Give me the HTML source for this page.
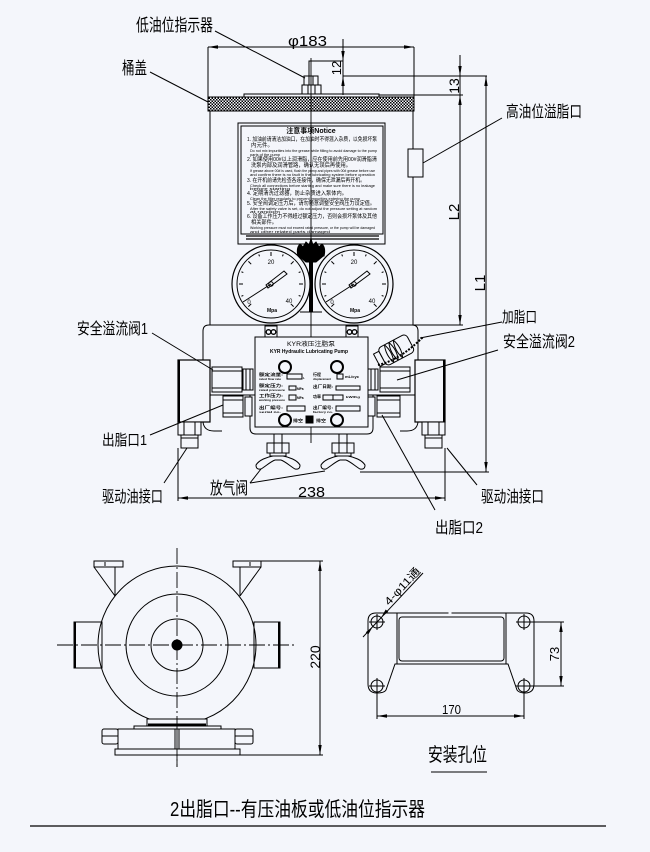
<!DOCTYPE html>
<html><head><meta charset="utf-8">
<style>
html,body{margin:0;padding:0;background:#f4f6fb;}
svg{display:block}
text{font-family:"Liberation Sans","Noto Sans CJK SC",sans-serif;fill:#000;stroke:none}
</style></head><body>
<svg width="650" height="852" viewBox="0 0 650 852" xmlns="http://www.w3.org/2000/svg">
<defs>
<pattern id="hatch" width="3" height="3" patternUnits="userSpaceOnUse">
<rect width="3" height="3" fill="#f4f6fb"/>
<rect x="0" y="0" width="1.5" height="1.5" fill="#000"/>
<rect x="1.5" y="1.5" width="1.5" height="1.5" fill="#000"/>
</pattern>
</defs>
<rect width="650" height="852" fill="#f4f6fb"/>

<g stroke="#000" stroke-width="1" fill="none">
<!-- ===== dimension phi183 ===== -->
<line x1="208" y1="47" x2="414" y2="47"/>
<line x1="208" y1="47" x2="208" y2="97"/>
<line x1="414" y1="47" x2="414" y2="97"/>
<!-- 12 dim -->
<line x1="343" y1="39" x2="343" y2="95"/>
<path d="M309,76 V61 H343"/>
<!-- 13 / L1 ext lines -->
<line x1="343" y1="76" x2="487" y2="76"/>
<line x1="379" y1="95" x2="463" y2="95"/>
<line x1="460" y1="55" x2="460" y2="325"/>
<line x1="412" y1="325" x2="463" y2="325"/>
<line x1="486" y1="76" x2="486" y2="472"/>
<line x1="360" y1="472" x2="489" y2="472"/>

<!-- ===== tank ===== -->
<rect x="208" y="97" width="206" height="14" fill="url(#hatch)"/>
<rect x="244" y="94" width="135" height="3"/>
<line x1="210" y1="111" x2="210" y2="325"/>
<line x1="413" y1="111" x2="413" y2="325"/>
<!-- indicator -->
<rect x="304" y="76" width="14" height="9" fill="#f4f6fb"/>
<line x1="309" y1="76" x2="309" y2="85"/><line x1="313" y1="76" x2="313" y2="85"/>
<rect x="302" y="85" width="19" height="9" fill="#f4f6fb"/>
<line x1="308" y1="85" x2="308" y2="94"/><line x1="315" y1="85" x2="315" y2="94"/>
<!-- high oil overflow port -->
<rect x="408" y="149" width="15" height="28" fill="#f4f6fb"/>

<!-- notice panel -->
<rect x="238" y="123" width="147" height="121"/>
<rect x="241" y="126" width="142" height="108"/>
<line x1="246" y1="236" x2="379" y2="236" stroke-width="1.2"/>
<line x1="246" y1="239" x2="379" y2="239" stroke-width="1.2"/>

<!-- centerline -->
<line x1="311" y1="58" x2="311" y2="443" stroke-width="0.9"/>

<!-- logo -->
<path d="M298,256 Q296,248 300,244 L303,247 L306,242 L309,245 L311,239 L313,245 L316,242 L319,247 L322,244 Q326,248 324,256 Z" fill="#000"/>
<path d="M300,257 H322 L316,262 H306 Z" fill="#000"/>
<rect x="309" y="262" width="4" height="50" fill="#000" stroke="none"/>
<line x1="300" y1="312" x2="322" y2="312"/>

<!-- ===== gauges ===== -->
<g transform="translate(271,284)">
<circle r="39" fill="#f4f6fb" stroke-width="1.2"/>
<circle r="34"/>
<path d="M-19.8,19.8 L-22.6,22.6 M-28,0 L-32,0 M-19.8,-19.8 L-22.6,-22.6 M0,-28 L0,-32 M19.8,-19.8 L22.6,-22.6 M28,0 L32,0 M19.8,19.8 L22.6,22.6 M-27.7,11.5 L-29.6,12.2 M-27.7,-11.5 L-29.6,-12.2 M-11.5,-27.7 L-12.2,-29.6 M11.5,-27.7 L12.2,-29.6 M27.7,-11.5 L29.6,-12.2 M27.7,11.5 L29.6,12.2"/>
<line x1="0" y1="0" x2="-28" y2="18"/>
<polygon points="-5,1 13,-13 16,-10 -3,4"/>
<circle r="2.2"/>
</g>
<g transform="translate(354,284)">
<circle r="39" fill="#f4f6fb" stroke-width="1.2"/>
<circle r="34"/>
<path d="M-19.8,19.8 L-22.6,22.6 M-28,0 L-32,0 M-19.8,-19.8 L-22.6,-22.6 M0,-28 L0,-32 M19.8,-19.8 L22.6,-22.6 M28,0 L32,0 M19.8,19.8 L22.6,22.6 M-27.7,11.5 L-29.6,12.2 M-27.7,-11.5 L-29.6,-12.2 M-11.5,-27.7 L-12.2,-29.6 M11.5,-27.7 L12.2,-29.6 M27.7,-11.5 L29.6,-12.2 M27.7,11.5 L29.6,12.2"/>
<line x1="0" y1="0" x2="-28" y2="18"/>
<polygon points="-5,1 13,-13 16,-10 -3,4"/>
<circle r="2.2"/>
</g>

<!-- ===== pump housing ===== -->
<path d="M203,360 V331 Q203,325 209,325 H412 Q418,325 418,331 V360"/>
<path d="M203,422 Q204,431 214,431 H222"/>
<path d="M418,422 Q417,431 407,431 H400"/>
<!-- gauge nipples -->
<rect x="265" y="326" width="12" height="11" fill="#f4f6fb"/>
<circle cx="268.5" cy="332" r="2.3" stroke-width="1.3"/><circle cx="273.5" cy="332" r="2.3" stroke-width="1.3"/>
<rect x="346" y="326" width="12" height="11" fill="#f4f6fb"/>
<circle cx="349.5" cy="332" r="2.3" stroke-width="1.3"/><circle cx="354.5" cy="332" r="2.3" stroke-width="1.3"/>

<!-- side blocks -->
<rect x="178" y="360" width="32" height="62" fill="#f4f6fb" stroke-width="1.2"/>
<line x1="179" y1="360" x2="179" y2="422" stroke-width="2"/>
<rect x="415" y="360" width="30" height="62" fill="#f4f6fb" stroke-width="1.2"/>
<line x1="444" y1="360" x2="444" y2="422" stroke-width="2"/>
<line x1="210" y1="395" x2="255" y2="395"/>
<line x1="368" y1="395" x2="415" y2="395"/>

<!-- lower plate + front plate -->
<path d="M250,395 V428 Q250,434 256,434 H367 Q373,434 373,428 V395"/>
<rect x="255" y="337" width="113" height="90" fill="#f4f6fb"/>

<!-- safety valve 1 -->
<rect x="212" y="367" width="30" height="25" fill="#f4f6fb"/>
<line x1="212" y1="371" x2="242" y2="371"/><line x1="212" y1="388" x2="242" y2="388"/>
<rect x="243" y="369" width="10" height="21" fill="#f4f6fb"/>
<line x1="246" y1="369" x2="246" y2="390"/><line x1="250" y1="369" x2="250" y2="390"/>
<!-- outlet 1 -->
<rect x="223" y="396" width="20" height="21" fill="#f4f6fb"/>
<line x1="223" y1="400" x2="243" y2="400"/><line x1="223" y1="413" x2="243" y2="413"/>
<rect x="245" y="397" width="7" height="19" fill="#f4f6fb"/>
<!-- safety valve 2 -->
<rect x="380" y="367" width="30" height="25" fill="#f4f6fb"/>
<line x1="380" y1="371" x2="410" y2="371"/><line x1="380" y1="388" x2="410" y2="388"/>
<rect x="368" y="369" width="10" height="21" fill="#f4f6fb"/>
<line x1="371" y1="369" x2="371" y2="390"/><line x1="375" y1="369" x2="375" y2="390"/>
<!-- outlet 2 -->
<rect x="377" y="396" width="23" height="21" fill="#f4f6fb"/>
<line x1="377" y1="400" x2="400" y2="400"/><line x1="377" y1="413" x2="400" y2="413"/>
<rect x="368" y="397" width="7" height="19" fill="#f4f6fb"/>

<!-- grease inlet with cap & chain -->
<g transform="translate(398,349) rotate(-28)">
<rect x="-18" y="-10" width="32" height="20" rx="4" fill="#f4f6fb"/>
<path d="M-10,-10 Q-14,0 -10,10 M-5,-10 Q-9,0 -5,10 M0,-10 Q-4,0 0,10"/>
<path d="M-10,-10 Q-6,0 -10,10 M-5,-10 Q-1,0 -5,10 M0,-10 Q4,0 0,10"/>
<rect x="-24" y="-7" width="6" height="14" fill="#f4f6fb"/>
</g>
<path d="M378,365 Q400,360 423,337" stroke-width="2" stroke-dasharray="2 1.4"/>

<!-- knobs -->
<circle cx="285" cy="367" r="6" stroke-width="2"/>
<circle cx="337" cy="367" r="6" stroke-width="2"/>
<circle cx="285" cy="420" r="6" stroke-width="2"/>
<circle cx="337" cy="420" r="6" stroke-width="2"/>
<rect x="306" y="416" width="7" height="7" fill="#000"/>
<!-- field boxes -->
<rect x="287" y="374" width="15" height="5"/>
<rect x="337" y="374" width="6" height="5"/>
<rect x="289" y="386" width="7" height="4"/>
<rect x="336" y="386" width="24" height="4"/>
<rect x="289" y="395" width="7" height="5"/>
<rect x="323" y="395" width="20" height="5"/><line x1="333" y1="395" x2="333" y2="400"/>
<rect x="287" y="406" width="18" height="5"/>
<rect x="336" y="406" width="24" height="5"/>

<!-- drive oil ports -->
<rect x="178" y="422" width="23" height="13" fill="#f4f6fb"/>
<line x1="184" y1="422" x2="184" y2="435"/><line x1="195" y1="422" x2="195" y2="435"/>
<rect x="181" y="435" width="17" height="13" fill="#f4f6fb"/>
<line x1="181" y1="438" x2="198" y2="438"/>
<rect x="422" y="422" width="23" height="13" fill="#f4f6fb"/>
<line x1="428" y1="422" x2="428" y2="435"/><line x1="439" y1="422" x2="439" y2="435"/>
<rect x="425" y="435" width="17" height="13" fill="#f4f6fb"/>
<line x1="425" y1="438" x2="442" y2="438"/>

<!-- air bleed valves (wing nuts) -->
<g transform="translate(278,0)">
<rect x="-4" y="434" width="8" height="9"/>
<rect x="-11" y="443" width="22" height="10" fill="#f4f6fb"/>
<line x1="-4" y1="443" x2="-4" y2="453"/><line x1="4" y1="443" x2="4" y2="453"/>
<rect x="-8" y="453" width="16" height="3"/>
<path d="M-5,456 C-11,457 -19,460 -22,465 Q-22,470 -17,469 C-12,466 -8,462 -3,460"/>
<path d="M5,456 C11,457 19,460 22,465 Q22,470 17,469 C12,466 8,462 3,460"/>
<line x1="-3" y1="460" x2="3" y2="460"/>
</g>
<g transform="translate(343,0)">
<rect x="-4" y="434" width="8" height="9"/>
<rect x="-11" y="443" width="22" height="10" fill="#f4f6fb"/>
<line x1="-4" y1="443" x2="-4" y2="453"/><line x1="4" y1="443" x2="4" y2="453"/>
<rect x="-8" y="453" width="16" height="3"/>
<path d="M-5,456 C-11,457 -19,460 -22,465 Q-22,470 -17,469 C-12,466 -8,462 -3,460"/>
<path d="M5,456 C11,457 19,460 22,465 Q22,470 17,469 C12,466 8,462 3,460"/>
<line x1="-3" y1="460" x2="3" y2="460"/>
</g>

<!-- 238 dim -->
<line x1="178" y1="448" x2="178" y2="501"/>
<line x1="445" y1="448" x2="445" y2="501"/>
<line x1="178" y1="498" x2="445" y2="498"/>

<!-- leaders -->
<line x1="215" y1="31" x2="305" y2="78"/>
<line x1="150" y1="72" x2="208" y2="102"/>
<line x1="502" y1="118" x2="423" y2="163"/>
<line x1="502" y1="322" x2="420" y2="338"/>
<line x1="498" y1="350" x2="397" y2="380"/>
<line x1="152" y1="333" x2="213" y2="370"/>
<line x1="150" y1="435" x2="223" y2="405"/>
<line x1="164" y1="483" x2="187" y2="448"/>
<line x1="477" y1="485" x2="447" y2="448"/>
<line x1="250" y1="483" x2="261" y2="469"/>
<line x1="250" y1="483" x2="325" y2="471"/>
<line x1="435" y1="510" x2="382" y2="415"/>

<!-- ===== bottom-left view ===== -->
<circle cx="177" cy="645" r="79"/>
<circle cx="177" cy="645" r="51"/>
<circle cx="177" cy="645" r="26"/>
<circle cx="177" cy="645" r="5" fill="#000"/>
<g stroke-dasharray="16 3 2 3" stroke-width="0.9">
<line x1="177" y1="548" x2="177" y2="767"/>
<line x1="57" y1="645" x2="297" y2="645"/>
</g>
<rect x="94" y="561" width="29" height="6" fill="#f4f6fb"/>
<line x1="105" y1="562" x2="105" y2="566"/>
<rect x="233" y="561" width="28" height="6" fill="#f4f6fb"/>
<line x1="250" y1="562" x2="250" y2="566"/>
<path d="M94,567 L115,596 M115,567 V596"/>
<path d="M261,567 L240,596 M240,567 V596"/>
<rect x="74" y="622" width="28" height="46"/>
<line x1="75" y1="622" x2="75" y2="668" stroke-width="2"/>
<rect x="254" y="622" width="26" height="46"/>
<line x1="279" y1="622" x2="279" y2="668" stroke-width="2"/>
<rect x="147" y="719" width="60" height="7" fill="#f4f6fb"/>
<line x1="148" y1="724.5" x2="206" y2="724.5" stroke-width="2"/>
<rect x="134" y="726" width="87" height="3" fill="#f4f6fb"/>
<rect x="118" y="729" width="117" height="20" fill="#f4f6fb"/>
<line x1="175" y1="729" x2="175" y2="749"/><line x1="179" y1="729" x2="179" y2="749"/>
<rect x="102" y="729" width="16" height="15" rx="2"/>
<line x1="102" y1="736" x2="118" y2="736"/>
<rect x="235" y="729" width="18" height="15" rx="2"/>
<line x1="235" y1="736" x2="253" y2="736"/>
<rect x="115" y="749" width="125" height="6" fill="#f4f6fb"/>
<line x1="177" y1="719" x2="177" y2="767" stroke-width="0.9"/>
<!-- 220 dim -->
<line x1="261" y1="561" x2="323" y2="561"/>
<line x1="240" y1="755" x2="323" y2="755"/>
<line x1="320" y1="561" x2="320" y2="755"/>

<!-- ===== mounting hole view ===== -->
<path d="M376,613 H526 Q534,613 534,621 V684 Q534,693 525,693 Q519,693 517,690 L508,664 H395 L386,690 Q384,693 377,693 Q368,693 368,684 V621 Q368,613 376,613 Z"/>
<line x1="397" y1="613" x2="397" y2="664"/>
<line x1="506" y1="613" x2="506" y2="664"/>
<rect x="399" y="617" width="105" height="44" rx="3"/>
<line x1="450" y1="610" x2="450" y2="616" stroke="#f4f6fb" stroke-width="3"/>
<g>
<circle cx="377" cy="622" r="6"/><path d="M369,622 H385 M377,614 V630"/>
<circle cx="524" cy="622" r="6"/><path d="M516,622 H532 M524,614 V630"/>
<circle cx="377" cy="686" r="6"/><path d="M369,686 H385 M377,678 V694"/>
<circle cx="524" cy="686" r="6"/><path d="M516,686 H532 M524,678 V694"/>
</g>
<line x1="377" y1="692" x2="377" y2="719"/>
<line x1="524" y1="692" x2="524" y2="719"/>
<line x1="377" y1="716" x2="524" y2="716"/>
<line x1="530" y1="622" x2="564" y2="622"/>
<line x1="530" y1="686" x2="564" y2="686"/>
<line x1="561" y1="622" x2="561" y2="686"/>
<line x1="363" y1="637" x2="423" y2="573"/>
<line x1="431" y1="772" x2="487" y2="772"/>

<!-- caption underline -->
<line x1="30" y1="826" x2="606" y2="826" stroke-width="1.2"/>
</g>

<!-- ===== arrowheads ===== -->
<g fill="#000" stroke="none">
<polygon points="208,47 218,45.3 218,48.7"/>
<polygon points="414,47 404,45.3 404,48.7"/>
<polygon points="343,61 341.3,51 344.7,51"/>
<polygon points="343,76 341.3,86 344.7,86"/>
<polygon points="460,76 458.3,66 461.7,66"/>
<polygon points="460,95 458.3,105 461.7,105"/>
<polygon points="460,325 458.3,315 461.7,315"/>
<polygon points="486,76 484.3,86 487.7,86"/>
<polygon points="486,472 484.3,462 487.7,462"/>
<polygon points="178,498 188,496.3 188,499.7"/>
<polygon points="445,498 435,496.3 435,499.7"/>
<polygon points="320,561 318.3,571 321.7,571"/>
<polygon points="320,755 318.3,745 321.7,745"/>
<polygon points="377,716 387,714.3 387,717.7"/>
<polygon points="524,716 514,714.3 514,717.7"/>
<polygon points="561,622 559.3,632 562.7,632"/>
<polygon points="561,686 559.3,676 562.7,676"/>
<polygon points="372.9,626.4 365.8,632.2 368.3,634.5"/>
<polygon points="381.1,617.6 388.2,611.8 385.7,609.5"/>
</g>

<!-- ===== texts ===== -->
<g font-size="17">
<text x="136" y="31" textLength="77" lengthAdjust="spacingAndGlyphs">低油位指示器</text>
<text x="122" y="74" textLength="25" lengthAdjust="spacingAndGlyphs">桶盖</text>
<text x="506" y="117" textLength="76" lengthAdjust="spacingAndGlyphs" font-size="16">高油位溢脂口</text>
<text x="502" y="322" textLength="35" lengthAdjust="spacingAndGlyphs" font-size="15">加脂口</text>
<text x="503" y="347" textLength="72" lengthAdjust="spacingAndGlyphs" font-size="16">安全溢流阀2</text>
<text x="77" y="334" textLength="71" lengthAdjust="spacingAndGlyphs" font-size="16">安全溢流阀1</text>
<text x="102" y="445" textLength="45" lengthAdjust="spacingAndGlyphs" font-size="15">出脂口1</text>
<text x="102" y="502" textLength="61" lengthAdjust="spacingAndGlyphs" font-size="16">驱动油接口</text>
<text x="481" y="502" textLength="63" lengthAdjust="spacingAndGlyphs" font-size="16">驱动油接口</text>
<text x="210" y="494" textLength="38" lengthAdjust="spacingAndGlyphs">放气阀</text>
<text x="435" y="533" textLength="48" lengthAdjust="spacingAndGlyphs" font-size="16">出脂口2</text>
<text x="428" y="761" textLength="59" lengthAdjust="spacingAndGlyphs" font-size="19">安装孔位</text>
<text x="170" y="816" textLength="255" lengthAdjust="spacingAndGlyphs" font-size="20">2出脂口--有压油板或低油位指示器</text>
</g>
<g font-size="15">
<text x="288" y="46" textLength="39" lengthAdjust="spacingAndGlyphs">φ183</text>
<text x="298" y="497" textLength="27" lengthAdjust="spacingAndGlyphs">238</text>
<text x="442" y="714" textLength="19" lengthAdjust="spacingAndGlyphs" font-size="13">170</text>
<text transform="translate(341,68) rotate(-90)" text-anchor="middle" font-size="13">12</text>
<text transform="translate(459,86) rotate(-90)" text-anchor="middle" font-size="14">13</text>
<text transform="translate(459,212) rotate(-90)" text-anchor="middle" font-size="15">L2</text>
<text transform="translate(485,283) rotate(-90)" text-anchor="middle" font-size="15">L1</text>
<text transform="translate(320,657) rotate(-90)" text-anchor="middle" font-size="14">220</text>
<text transform="translate(559,654) rotate(-90)" text-anchor="middle" font-size="13">73</text>
<text transform="translate(389,606) rotate(-46.8)" font-size="11" textLength="47" lengthAdjust="spacingAndGlyphs">4-φ11通</text>
</g>

<!-- gauge labels -->
<g font-size="6" text-anchor="middle">
<text x="271" y="264">20</text><text x="249" y="304">0</text><text x="289" y="303">40</text>
<text x="272" y="312" font-size="5" font-weight="bold">Mpa</text>
<text x="354" y="264">20</text><text x="332" y="304">0</text><text x="372" y="303">40</text>
<text x="355" y="312" font-size="5" font-weight="bold">Mpa</text>
</g>

<!-- notice panel text -->
<text x="311" y="133" font-size="7" text-anchor="middle" font-weight="bold">注意事项Notice</text>
<g font-size="5.6" fill="#111">
<text x="247" y="141" textLength="130" lengthAdjust="spacingAndGlyphs">1. 加油前请清洁加油口，在加油时不得混入杂质，以免损坏泵</text>
<text x="251" y="147" textLength="22" lengthAdjust="spacingAndGlyphs">内元件。</text>
<text x="247" y="161" textLength="130" lengthAdjust="spacingAndGlyphs">2. 如果使用00#以上润滑脂，应在使用前先用00#润滑脂清</text>
<text x="251" y="167" textLength="100" lengthAdjust="spacingAndGlyphs">洗泵内部及润滑管路，确认无误后再使用。</text>
<text x="247" y="182" textLength="118" lengthAdjust="spacingAndGlyphs">3. 在开机前请先检查各连接件，确保无泄漏后再开机。</text>
<text x="247" y="195" textLength="100" lengthAdjust="spacingAndGlyphs">4. 定期清洗过滤器，防止杂质进入泵体内。</text>
<text x="247" y="205" textLength="128" lengthAdjust="spacingAndGlyphs">5. 安全阀调定压力后，请勿随意调整安全阀压力设定值。</text>
<text x="247" y="218" textLength="130" lengthAdjust="spacingAndGlyphs">6. 设备工作压力不得超过额定压力，否则会损坏泵体及其他</text>
<text x="251" y="224" textLength="26" lengthAdjust="spacingAndGlyphs">相关部件。</text>
</g>
<g font-size="3.4" fill="#222">
<text x="250" y="152" textLength="127" lengthAdjust="spacingAndGlyphs">Do not mix impurities into the grease while filling to avoid damage to the pump</text>
<text x="250" y="156" textLength="30" lengthAdjust="spacingAndGlyphs">parts of the pump</text>
<text x="250" y="172" textLength="125" lengthAdjust="spacingAndGlyphs">If grease above 00# is used, flush the pump and pipes with 00# grease before use</text>
<text x="250" y="176" textLength="125" lengthAdjust="spacingAndGlyphs">and confirm there is no fault in the lubricating system before operation</text>
<text x="250" y="187" textLength="125" lengthAdjust="spacingAndGlyphs">Check all connections before starting and make sure there is no leakage</text>
<text x="250" y="190" textLength="40" lengthAdjust="spacingAndGlyphs">before starting</text>
<text x="250" y="200" textLength="110" lengthAdjust="spacingAndGlyphs">Clean the filter regularly to prevent impurities entering the pump</text>
<text x="250" y="210" textLength="127" lengthAdjust="spacingAndGlyphs">After the safety valve is set, do not adjust the pressure setting at random</text>
<text x="250" y="213" textLength="30" lengthAdjust="spacingAndGlyphs">at random</text>
<text x="250" y="229" textLength="125" lengthAdjust="spacingAndGlyphs">Working pressure must not exceed rated pressure, or the pump will be damaged</text>
<text x="250" y="233" textLength="80" lengthAdjust="spacingAndGlyphs">and other related parts damaged</text>
</g>

<!-- front plate text -->
<text x="311" y="346" font-size="6" text-anchor="middle" textLength="48" lengthAdjust="spacingAndGlyphs">KYR液压注脂泵</text>
<text x="309" y="353" font-size="5.5" text-anchor="middle" textLength="78" lengthAdjust="spacingAndGlyphs" font-weight="bold">KYR Hydraulic  Lubricating Pump</text>
<g font-size="4" font-weight="bold">
<text x="259" y="376" textLength="24" lengthAdjust="spacingAndGlyphs">额定流量:</text>
<text x="259" y="380" font-size="2.6" textLength="22" lengthAdjust="spacingAndGlyphs">rated flow rate</text>
<text x="303" y="379" font-size="3">L</text>
<text x="313" y="376" textLength="8" lengthAdjust="spacingAndGlyphs">行程</text>
<text x="313" y="380" font-size="2.6" textLength="18" lengthAdjust="spacingAndGlyphs">displacement</text>
<text x="345" y="378" font-size="3.4" textLength="14" lengthAdjust="spacingAndGlyphs">mL/cyc</text>
<text x="259" y="387" textLength="24" lengthAdjust="spacingAndGlyphs">额定压力:</text>
<text x="259" y="391" font-size="2.6" textLength="26" lengthAdjust="spacingAndGlyphs">rated pressure</text>
<text x="297" y="390" font-size="3.2">MPa</text>
<text x="313" y="388" textLength="20" lengthAdjust="spacingAndGlyphs">出厂日期:</text>
<text x="259" y="397" textLength="24" lengthAdjust="spacingAndGlyphs">工作压力:</text>
<text x="259" y="401" font-size="2.6" textLength="26" lengthAdjust="spacingAndGlyphs">working pressure</text>
<text x="297" y="399" font-size="3.2">MPa</text>
<text x="313" y="398" textLength="8" lengthAdjust="spacingAndGlyphs">功率</text>
<text x="346" y="398" font-size="3" textLength="14" lengthAdjust="spacingAndGlyphs">kW/Kg</text>
<text x="259" y="409" textLength="24" lengthAdjust="spacingAndGlyphs">出厂编号:</text>
<text x="259" y="413" font-size="2.6" textLength="22" lengthAdjust="spacingAndGlyphs">serial no.</text>
<text x="313" y="409" textLength="20" lengthAdjust="spacingAndGlyphs">出厂编号:</text>
<text x="313" y="413" font-size="2.6" textLength="20" lengthAdjust="spacingAndGlyphs">factory no.</text>
<text x="293" y="422" textLength="10" lengthAdjust="spacingAndGlyphs">排空</text>
<text x="316" y="422" textLength="10" lengthAdjust="spacingAndGlyphs">排空</text>
</g>
</svg>
</body></html>
